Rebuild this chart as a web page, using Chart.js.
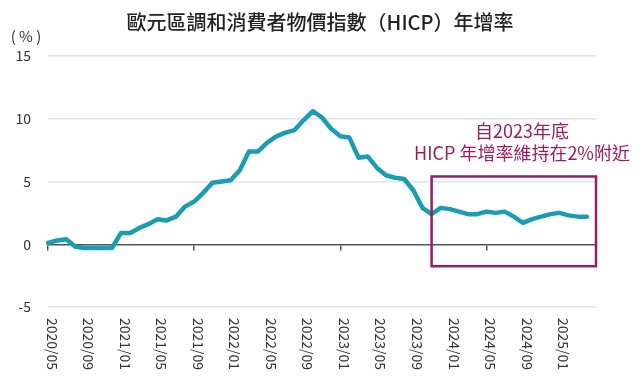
<!DOCTYPE html>
<html>
<head>
<meta charset="utf-8">
<script src="https://cdn.jsdelivr.net/npm/chart.js@4"></script>
<style>
  html, body { margin: 0; padding: 0; background: #fff; }
  #wrap { width: 640px; height: 377px; }
</style>
</head>
<body>
<div id="wrap"><canvas id="c"></canvas></div>
<script>
// 月份 2020/05 ~ 2025/05（最後一格無資料，只撐開座標軸）
const months = [
  '2020/05','2020/06','2020/07','2020/08','2020/09','2020/10','2020/11','2020/12',
  '2021/01','2021/02','2021/03','2021/04','2021/05','2021/06','2021/07','2021/08','2021/09','2021/10','2021/11','2021/12',
  '2022/01','2022/02','2022/03','2022/04','2022/05','2022/06','2022/07','2022/08','2022/09','2022/10','2022/11','2022/12',
  '2023/01','2023/02','2023/03','2023/04','2023/05','2023/06','2023/07','2023/08','2023/09','2023/10','2023/11','2023/12',
  '2024/01','2024/02','2024/03','2024/04','2024/05','2024/06','2024/07','2024/08','2024/09','2024/10','2024/11','2024/12',
  '2025/01','2025/02','2025/03','2025/04','2025/05'
];
// HICP 年增率 (%)
const hicp = [
  0.1, 0.3, 0.4, -0.2, -0.3, -0.3, -0.3, -0.3,
  0.9, 0.9, 1.3, 1.6, 2.0, 1.9, 2.2, 3.0, 3.4, 4.1, 4.9, 5.0,
  5.1, 5.9, 7.4, 7.4, 8.1, 8.6, 8.9, 9.1, 9.9, 10.6, 10.1, 9.2,
  8.6, 8.5, 6.9, 7.0, 6.1, 5.5, 5.3, 5.2, 4.3, 2.9, 2.4, 2.9,
  2.8, 2.6, 2.4, 2.4, 2.6, 2.5, 2.6, 2.2, 1.7, 2.0, 2.2, 2.4,
  2.5, 2.3, 2.2, 2.2, null
];
const yTicks = [-5, 0, 5, 10, 15];
const chartTitle = '歐元區調和消費者物價指數（HICP）年增率';
const unitLabel = '( % )';
const noteLines = ['自2023年底', 'HICP 年增率維持在2%附近'];

const FONT = '"Noto Sans CJK TC", "Noto Sans", sans-serif';
const NOTE_COLOR = '#9c1c62';

// 標題、單位、x 軸標籤（每四個月一個，字由上往下直排）
const textLayer = {
  id: 'textLayer',
  afterDraw(chart) {
    const ctx = chart.ctx, xs = chart.scales.x, area = chart.chartArea;
    ctx.save();
    ctx.font = '14px ' + FONT;
    ctx.fillStyle = '#333';
    ctx.textAlign = 'left';
    ctx.textBaseline = 'middle';
    months.forEach((m, i) => {
      if (i % 4 !== 0 || i >= hicp.length - 1) return;
      ctx.save();
      ctx.translate(xs.getPixelForValue(i) + 4, area.bottom + 11);
      ctx.rotate(Math.PI / 2);
      ctx.fillText(m, 0, 0);
      ctx.restore();
    });
    ctx.textAlign = 'center';
    ctx.font = '15px ' + FONT;
    ctx.fillText(unitLabel, 26, 36);
    ctx.fillStyle = '#222';
    ctx.font = '500 20px ' + FONT;
    ctx.fillText(chartTitle, chart.width / 2, 22);
    ctx.restore();
  }
};

// 註解框與文字
const noteBox = {
  id: 'noteBox',
  afterDatasetsDraw(chart) {
    const ctx = chart.ctx, xs = chart.scales.x, ys = chart.scales.y;
    const x1 = xs.getPixelForValue(42), x2 = xs.getPixelForValue(60);
    const y1 = ys.getPixelForValue(5.4), y2 = ys.getPixelForValue(-1.75);
    ctx.save();
    ctx.strokeStyle = NOTE_COLOR;
    ctx.lineWidth = 2.5;
    ctx.strokeRect(x1, y1, x2 - x1, y2 - y1);
    ctx.fillStyle = NOTE_COLOR;
    ctx.font = '18px ' + FONT;
    ctx.textAlign = 'center';
    ctx.textBaseline = 'middle';
    const cx = xs.getPixelForValue(51.9);
    ctx.fillText(noteLines[0], cx, ys.getPixelForValue(9.0));
    ctx.fillText(noteLines[1], cx, ys.getPixelForValue(7.25));
    ctx.restore();
  }
};

new Chart(document.getElementById('c'), {
  type: 'line',
  data: {
    labels: months,
    datasets: [{
      data: hicp,
      borderColor: '#1a9cb3',
      borderWidth: 4.5,
      pointRadius: 0,
      tension: 0,
      borderJoinStyle: 'round',
      borderCapStyle: 'round'
    }]
  },
  options: {
    responsive: true,
    maintainAspectRatio: false,
    animation: false,
    layout: { padding: { left: 0, right: 44, top: 56, bottom: 70 } },
    plugins: {
      legend: { display: false },
      tooltip: { enabled: false },
      title: { display: false }
    },
    scales: {
      x: {
        position: { y: 0 },
        offset: false,
        border: { display: true, color: '#555', width: 1.5 },
        grid: {
          drawOnChartArea: false,
          drawTicks: true,
          tickLength: 5,
          tickColor: c => (c.index % 4 === 0 && c.index < hicp.length - 1) ? '#555' : 'rgba(0,0,0,0)',
          lineWidth: 1.5
        },
        ticks: {
          autoSkip: false,
          maxRotation: 0,
          color: 'rgba(0,0,0,0)',
          callback: (v, i) => (i % 4 === 0 && i < hicp.length - 1) ? months[i] : null
        }
      },
      y: {
        min: -5,
        max: 15,
        afterFit: s => { s.width = 48; },
        afterBuildTicks: s => { s.ticks = yTicks.map(v => ({ value: v })); },
        border: { display: false },
        grid: {
          drawTicks: false,
          color: c => c.tick && c.tick.value === 0 ? 'rgba(0,0,0,0)' : '#e2e2e2',
          lineWidth: 1.5
        },
        ticks: {
          padding: 17,
          color: '#333',
          font: { family: FONT, size: 14 }
        }
      }
    }
  },
  plugins: [textLayer, noteBox]
});
</script>
</body>
</html>
